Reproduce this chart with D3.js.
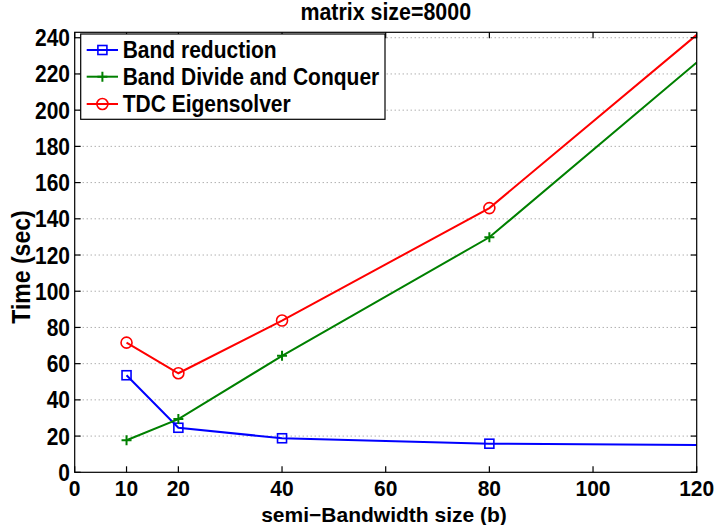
<!DOCTYPE html>
<html><head><meta charset="utf-8">
<script src="https://cdn.jsdelivr.net/npm/d3@7"></script>
<style>
body{margin:0;background:#fff;}
svg{display:block;}
text{font-family:"Liberation Sans",Arial,Helvetica,sans-serif;font-weight:bold;fill:#000;}
</style></head>
<body>
<script>
const bandwidth = [10, 20, 40, 80, 120];
const bandReduction = [53.6, 24.6, 18.8, 15.8, 15.1];
const bandDC = [17.7, 29.4, 64.3, 129.8, 226.3];
const tdcEigen = [71.6, 54.7, 83.8, 145.9, 241.6];
const seriesNames = ["Band reduction", "Band Divide and Conquer", "TDC Eigensolver"];
const xTicks = [0, 10, 20, 40, 60, 80, 100, 120];
const yTicks = [0, 20, 40, 60, 80, 100, 120, 140, 160, 180, 200, 220, 240];
const titleText = "matrix size=8000";
const xLabel = "semi\u2212Bandwidth size (b)";
const yLabel = "Time (sec)";

const W = 716, H = 525;
const L = 74.7, R = 696.7, T = 32.3, B = 472.3;
const svg = d3.select("body").append("svg").attr("width", W).attr("height", H);

const x = d3.scaleLinear().domain([0, 120]).range([L, R]);
const y = d3.scaleLinear().domain([0, 243]).range([B, T]);

const series = [
  {name: seriesNames[0], values: bandReduction, color: "#0000ff", marker: "square"},
  {name: seriesNames[1], values: bandDC, color: "#008000", marker: "plus"},
  {name: seriesNames[2], values: tdcEigen, color: "#ff0000", marker: "circle"}
];

function txt(g, x0, y0, s, size, anchor, rot, sy) {
  sy = sy || 1.1;
  return g.append("text")
    .attr("transform", `translate(${x0},${y0})` + (rot ? ` rotate(${rot})` : "") + ` scale(1,${sy})`)
    .attr("text-anchor", anchor || "start").attr("font-size", size).text(s);
}

// grid
svg.append("g").selectAll("line").data(yTicks.filter(d => d > 0)).join("line")
  .attr("x1", L).attr("x2", R).attr("y1", d => y(d)).attr("y2", d => y(d))
  .attr("stroke", "#8c8c8c").attr("stroke-width", 1).attr("stroke-dasharray", "1,3");

svg.append("clipPath").attr("id", "clip").append("rect")
  .attr("x", L).attr("y", T).attr("width", R - L).attr("height", B - T);

function drawMarker(g, type, cx, cy, color) {
  if (type === "square") {
    g.append("rect").attr("x", cx - 4.5).attr("y", cy - 4.5).attr("width", 9).attr("height", 9)
      .attr("fill", "none").attr("stroke", color).attr("stroke-width", 1.6);
  } else if (type === "circle") {
    g.append("circle").attr("cx", cx).attr("cy", cy).attr("r", 5.5)
      .attr("fill", "none").attr("stroke", color).attr("stroke-width", 1.6);
  } else {
    g.append("path").attr("d", `M${cx - 5},${cy}H${cx + 5}M${cx},${cy - 5}V${cy + 5}`)
      .attr("fill", "none").attr("stroke", color).attr("stroke-width", 2);
  }
}

const lineGen = d3.line().x(d => x(d[0])).y(d => y(d[1]));
series.forEach(s => {
  const pts = bandwidth.map((b, i) => [b, s.values[i]]);
  svg.append("path").datum(pts).attr("d", lineGen).attr("clip-path", "url(#clip)")
    .attr("fill", "none").attr("stroke", s.color).attr("stroke-width", 2);
  const g = svg.append("g");
  pts.filter(p => p[0] < 120).forEach(p => drawMarker(g, s.marker, x(p[0]), y(p[1]), s.color));
});

// frame + ticks
const tl = 6;
const ax = svg.append("g").attr("stroke", "#000").attr("stroke-width", 1.2);
ax.append("rect").attr("x", L).attr("y", T).attr("width", R - L).attr("height", B - T).attr("fill", "none");
xTicks.forEach(t => {
  ax.append("line").attr("x1", x(t)).attr("x2", x(t)).attr("y1", B).attr("y2", B - tl);
  ax.append("line").attr("x1", x(t)).attr("x2", x(t)).attr("y1", T).attr("y2", T + tl);
});
yTicks.forEach(t => {
  ax.append("line").attr("x1", L).attr("x2", L + tl).attr("y1", y(t)).attr("y2", y(t));
  ax.append("line").attr("x1", R).attr("x2", R - tl).attr("y1", y(t)).attr("y2", y(t));
});

// tick labels
const gx = svg.append("g");
xTicks.forEach(d => txt(gx, x(d), B + 24, d, 21, "middle", 0, 1.05));
const gy = svg.append("g");
yTicks.forEach(d => txt(gy, 70, y(d) + 8.5, d, 21, "end"));

// labels
txt(svg, (L + R) / 2, 20, titleText, 21.4, "middle");
txt(svg, 384, 521.5, xLabel, 21, "middle", 0, 1.0);
txt(svg, 30, 267, yLabel, 23, "middle", -90);

// legend
const lg = svg.append("g");
lg.append("rect").attr("x", 80.7).attr("y", 34).attr("width", 304.3).attr("height", 85.3)
  .attr("fill", "#fff").attr("stroke", "#000").attr("stroke-width", 1.2);
const ly = [50, 76.7, 104];
series.forEach((s, i) => {
  lg.append("line").attr("x1", 86.7).attr("x2", 118).attr("y1", ly[i]).attr("y2", ly[i])
    .attr("stroke", s.color).attr("stroke-width", 2);
  drawMarker(lg, s.marker, 102.4, ly[i], s.color);
  txt(lg, 122.7, ly[i] + 8, s.name, 21, "start");
});
</script>
</body></html>
